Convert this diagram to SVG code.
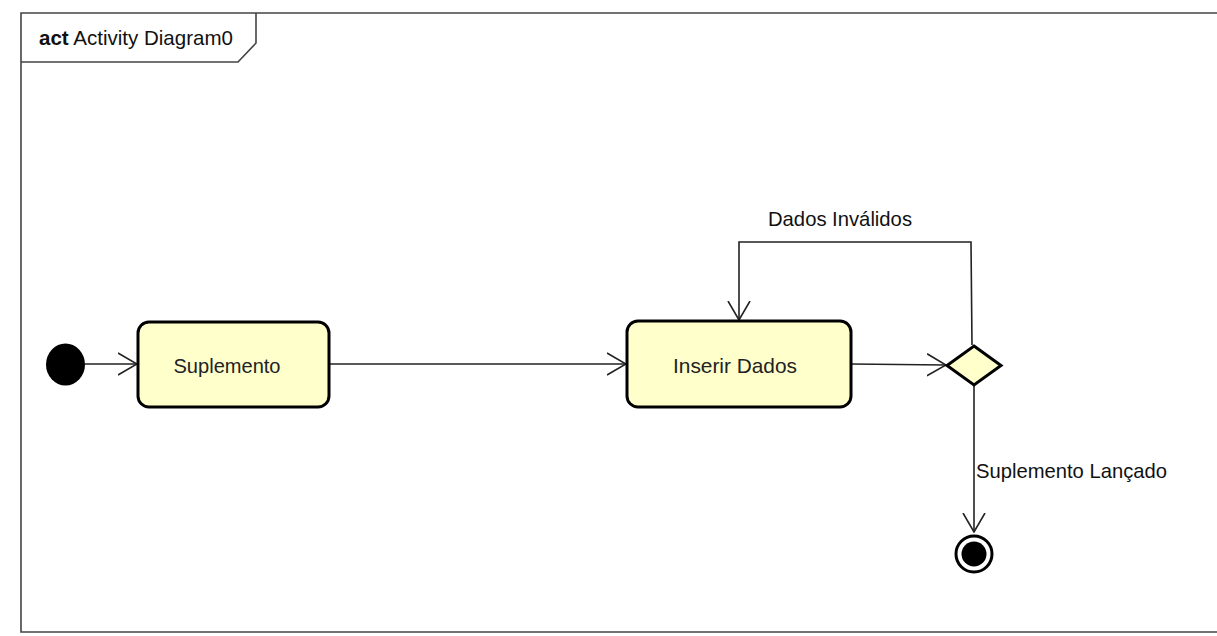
<svg xmlns="http://www.w3.org/2000/svg" width="1217" height="636" viewBox="0 0 1217 636">
  <style>
    .frame { fill: none; stroke: #444; stroke-width: 1.6; }
    .action { fill: #ffffcc; stroke: #000; stroke-width: 3; }
    .edge { fill: none; stroke: #222; stroke-width: 1.6; }
    .lbl { font-family: "Liberation Sans", Arial, sans-serif; font-size: 21px; fill: #111; }
    .nodeText { font-family: "Liberation Sans", Arial, sans-serif; font-size: 21px; fill: #222; text-anchor: middle; }
  </style>
  <defs>
    <marker id="open" viewBox="0 0 20 24" refX="19" refY="12" markerWidth="20" markerHeight="24" markerUnits="userSpaceOnUse" orient="auto">
      <path d="M0,1 L19,12 L0,23" fill="none" stroke="#222" stroke-width="1.6"/>
    </marker>
  </defs>
  <rect x="0" y="0" width="1217" height="636" fill="#fff"/>

  <!-- activity frame and header tab -->
  <g id="frame">
    <path class="frame" d="M1230,13 L21,13 L21,632 L1230,632"/>
    <path class="frame" d="M21,62 L238,62 L256,43 L256,13"/>
    <text class="lbl" x="39" y="45" textLength="194" lengthAdjust="spacingAndGlyphs"><tspan font-weight="bold">act</tspan> Activity Diagram0</text>
  </g>

  <!-- connectors -->
  <g id="connectors">
    <path class="edge" d="M85,364 L137,364" marker-end="url(#open)"/>
    <path class="edge" d="M329,364 L626,364" marker-end="url(#open)"/>
    <path class="edge" d="M851,364 L946,365" marker-end="url(#open)"/>
    <path class="edge" d="M972,345 L971,242 L739,242 L739,320" marker-end="url(#open)"/>
    <path class="edge" d="M974,386 L974,532" marker-end="url(#open)"/>
    <text class="lbl" x="768" y="226" textLength="144" lengthAdjust="spacingAndGlyphs">Dados Inválidos</text>
    <text class="lbl" x="976" y="478" textLength="191" lengthAdjust="spacingAndGlyphs">Suplemento Lançado</text>
  </g>

  <g id="initial">
    <ellipse cx="65.5" cy="364.5" rx="19.5" ry="21" fill="#000"/>
  </g>

  <g id="suplemento">
    <rect class="action" x="138" y="322" width="191" height="85" rx="11" ry="11"/>
    <text class="nodeText" x="227" y="373" textLength="107" lengthAdjust="spacingAndGlyphs">Suplemento</text>
  </g>

  <g id="inserirDados">
    <rect class="action" x="627" y="321" width="224" height="86" rx="11" ry="11"/>
    <text class="nodeText" x="735" y="373" textLength="124" lengthAdjust="spacingAndGlyphs">Inserir Dados</text>
  </g>

  <g id="decision">
    <path d="M974,346 L1001,365.5 L974,385 L947,365.5 Z" fill="#ffffcc" stroke="#000" stroke-width="3" stroke-linejoin="miter"/>
  </g>

  <g id="final">
    <circle cx="974" cy="554" r="18" fill="#fff" stroke="#000" stroke-width="3"/>
    <circle cx="974" cy="554" r="12.5" fill="#000"/>
  </g>
</svg>
